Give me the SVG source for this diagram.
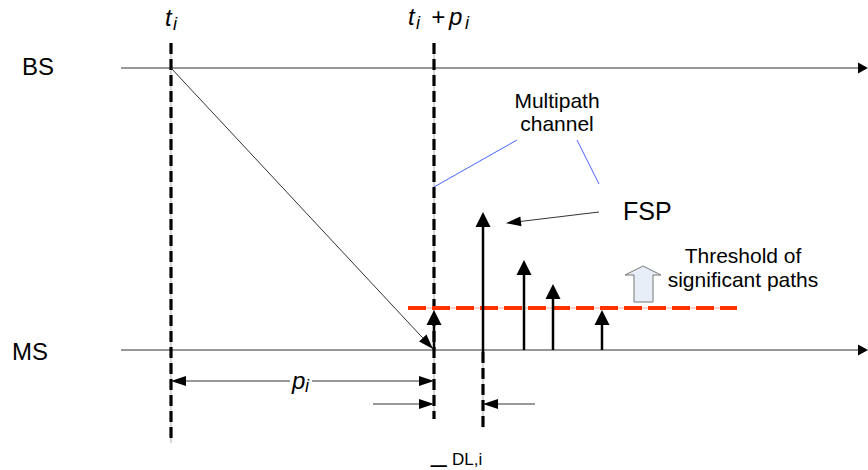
<svg xmlns="http://www.w3.org/2000/svg" width="868" height="470" viewBox="0 0 868 470">
<style>
text{font-family:"Liberation Sans",Arial,sans-serif;fill:#000}
.it{font-style:italic}
.axis{stroke:#333;stroke-width:1.2;fill:none}
.thin{stroke:#333;stroke-width:1;fill:none}
.vg{stroke:#bbb;stroke-width:1.2;fill:none}
.vd{stroke:#000;stroke-width:3.2;stroke-dasharray:11 5;fill:none}
.path{stroke:#000;stroke-width:2.5;fill:none}
.blue{stroke:#4466ff;stroke-width:1;fill:none}
.redg{stroke:#ffb0a0;stroke-width:1;fill:none}
.redd{stroke:#ff3300;stroke-width:4;stroke-dasharray:18 6;fill:none}
</style>
<defs>
<marker id="ax" markerUnits="userSpaceOnUse" markerWidth="12" markerHeight="12" viewBox="0 -6 10 12" refX="0" refY="0" orient="auto"><path d="M0,-5.5 L10,0 L0,5.5 z" fill="#000"/></marker>
<marker id="ah" markerUnits="userSpaceOnUse" markerWidth="16" markerHeight="12" viewBox="0 -6 15 12" refX="0" refY="0" orient="auto"><path d="M0,-5 L15,0 L0,5 z" fill="#000"/></marker>
<marker id="ph" markerUnits="userSpaceOnUse" markerWidth="16" markerHeight="16" viewBox="0 -8 15 16" refX="0" refY="0" orient="auto"><path d="M0,-7.5 L15,0 L0,7.5 z" fill="#000"/></marker>
</defs>
<rect width="868" height="470" fill="#fff"/>

<g id="labels">
<text x="22" y="75" font-size="24">BS</text>
<text x="12" y="360" font-size="24">MS</text>
<text class="it" font-size="24" y="26"><tspan x="165">t</tspan><tspan x="173" dy="4" font-size="18">i</tspan></text>
<text class="it" font-size="24" y="25"><tspan x="408">t</tspan><tspan x="416" dy="4" font-size="18">i</tspan><tspan x="431" dy="-4">+</tspan><tspan x="449">p</tspan><tspan x="465" dy="4" font-size="18">i</tspan></text>
</g>

<g id="connectors">
<line class="axis" x1="121" y1="68" x2="858" y2="68" marker-end="url(#ax)"/>
<line class="axis" x1="121" y1="350" x2="858" y2="350" marker-end="url(#ax)"/>
<line class="vg" x1="171" y1="43" x2="171" y2="443"/>
<line class="vd" x1="171" y1="43" x2="171" y2="443"/>
<line class="vg" x1="434" y1="43" x2="434" y2="419"/>
<line class="vd" x1="434" y1="43" x2="434" y2="419"/>
<line class="vg" x1="483" y1="350" x2="483" y2="428"/>
<line class="vd" x1="483" y1="352" x2="483" y2="428"/>
<line class="thin" x1="171" y1="68" x2="422.8" y2="338" marker-end="url(#ah)"/>
<line class="redg" x1="408" y1="308" x2="737" y2="308"/>
<line class="redd" x1="408" y1="308" x2="737" y2="308"/>
<line class="path" x1="434" y1="350" x2="434" y2="325" marker-end="url(#ph)"/>
<line class="path" x1="483" y1="352" x2="483" y2="227" marker-end="url(#ph)"/>
<line class="path" x1="524" y1="350" x2="524" y2="275" marker-end="url(#ph)"/>
<line class="path" x1="553" y1="350" x2="553" y2="299" marker-end="url(#ph)"/>
<line class="path" x1="602" y1="350" x2="602" y2="325" marker-end="url(#ph)"/>
<line class="blue" x1="434" y1="187" x2="517" y2="140"/>
<line class="blue" x1="577" y1="140" x2="599" y2="184"/>
<line class="thin" x1="599" y1="212" x2="520.9" y2="221.4" marker-end="url(#ah)"/>
<line class="thin" x1="290" y1="381" x2="186" y2="381" marker-end="url(#ah)"/>
<line class="thin" x1="312" y1="381" x2="419" y2="381" marker-end="url(#ah)"/>
<line class="thin" x1="373" y1="404" x2="419" y2="404" marker-end="url(#ah)"/>
<line class="thin" x1="535" y1="404" x2="498" y2="404" marker-end="url(#ah)"/>
</g>

<g id="multipath-label">
<text x="557" y="108" font-size="21" text-anchor="middle">Multipath</text>
<text x="557" y="131" font-size="21" text-anchor="middle">channel</text>
</g>

<g id="fsp-label">
<text x="623" y="220" font-size="25">FSP</text>
</g>

<g id="threshold-label">
<path d="M643,266 L661,275 L653,275 L653,302 L634,302 L634,275 L625,275 Z" fill="#e8eef8" stroke="#777" stroke-width="1"/>
<text x="743" y="263" font-size="21" text-anchor="middle">Threshold of</text>
<text x="743" y="287" font-size="21" text-anchor="middle">significant paths</text>
</g>

<g id="pi-label">
<text class="it" font-size="24" y="389"><tspan x="292">p</tspan><tspan x="305" dy="3" font-size="18">i</tspan></text>
</g>

<g id="delay-label">
<text x="431" y="461" font-size="28">_</text>
<text x="452" y="465" font-size="17">DL,i</text>
</g>
</svg>
